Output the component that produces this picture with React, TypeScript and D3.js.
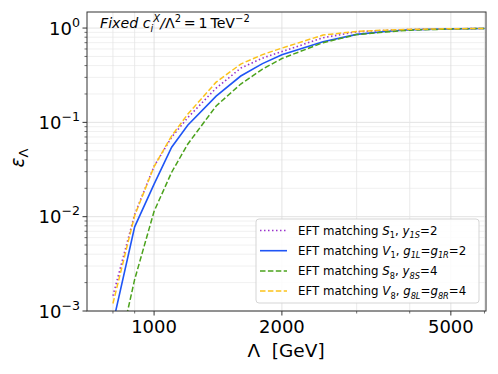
import React from "react";
import * as d3 from "d3";

// Lambda grid (GeV) and efficiencies
const lambdas = [800, 900, 1000, 1100, 1200, 1400, 1600, 1800, 2000, 2500, 3000, 3500, 4000, 5000, 6000];
const effS1 = [1.45e-3, 0.0106, 0.0343, 0.0697, 0.112, 0.231, 0.376, 0.48, 0.563, 0.789, 0.914, 0.945, 0.964, 0.98, 0.99];
const effV1 = [7.4e-4, 7.8e-3, 0.0221, 0.0546, 0.0934, 0.19, 0.31, 0.42, 0.52, 0.716, 0.857, 0.92, 0.96, 0.98, 0.99];
const effS8 = [2.0e-4, 2.16e-3, 0.0114, 0.0296, 0.0587, 0.149, 0.255, 0.367, 0.475, 0.7, 0.853, 0.907, 0.95, 0.976, 0.99];
const effV8 = [1.2e-3, 0.0103, 0.034, 0.072, 0.122, 0.267, 0.415, 0.523, 0.613, 0.843, 0.92, 0.95, 0.97, 0.983, 0.99];

const xMajor = [1000, 2000, 5000];
const xMinor = [800, 900, 3000, 4000, 6000];
const yMajor = [1e-3, 1e-2, 1e-1, 1];
const yExp = ["−3", "−2", "−1", "0"];

type Piece = { t: string; it?: boolean; sub?: boolean; sup?: boolean };

const series = [
  { y: effS1, color: "#9932cc", dash: "1.5,2.5", width: 1.6,
    label: [{ t: "S", it: true }, { t: "1", sub: true }, { t: ", " }, { t: "y", it: true }, { t: "1S", sub: true, it: true }, { t: "=2" }] },
  { y: effV1, color: "#1f55f5", dash: null, width: 1.6,
    label: [{ t: "V", it: true }, { t: "1", sub: true }, { t: ", " }, { t: "g", it: true }, { t: "1L", sub: true, it: true }, { t: "=" }, { t: "g", it: true }, { t: "1R", sub: true, it: true }, { t: "=2" }] },
  { y: effS8, color: "#4ba21c", dash: "5.5,2.4", width: 1.5,
    label: [{ t: "S", it: true }, { t: "8", sub: true }, { t: ", " }, { t: "y", it: true }, { t: "8S", sub: true, it: true }, { t: "=4" }] },
  { y: effV8, color: "#fcc21a", dash: "5.5,2.4", width: 1.5,
    label: [{ t: "V", it: true }, { t: "8", sub: true }, { t: ", " }, { t: "g", it: true }, { t: "8L", sub: true, it: true }, { t: "=" }, { t: "g", it: true }, { t: "8R", sub: true, it: true }, { t: "=4" }] },
];

const W = 498;
const H = 374;
const plot = { left: 87, right: 486, top: 12, bottom: 311 };

// renders text pieces with sub/superscripts as tspans
const rich = (pieces: Piece[], size: number) => {
  let off = 0;
  return pieces.map((p, i) => {
    const target = p.sub ? size * 0.28 : p.sup ? -size * 0.4 : 0;
    const dy = target - off;
    off = target;
    return (
      <tspan
        key={i}
        dy={dy}
        fontStyle={p.it ? "italic" : "normal"}
        fontSize={p.sub || p.sup ? size * 0.7 : size}
      >
        {p.t}
      </tspan>
    );
  });
};

export default function App() {
  const x = d3.scaleLog().domain([695, 6050]).range([plot.left, plot.right]);
  const y = d3.scaleLog().domain([1e-3, 1.48]).range([plot.bottom, plot.top]);

  const line = d3
    .line<number>()
    .x((_, i) => x(lambdas[i]))
    .y((d) => y(d));

  const yMinor: number[] = [];
  for (const base of [1e-3, 1e-2, 1e-1]) {
    for (let k = 2; k <= 9; k++) yMinor.push(base * k);
  }

  const font = "DejaVu Sans, sans-serif";
  const legX = 256;
  const legY = 219;
  const rowH = 20.2;
  const fs = 14.2;

  return (
    <svg width={W} height={H} style={{ position: "absolute", left: 0, top: 0 }} fontFamily={font}>
      <rect x={0} y={0} width={W} height={H} fill="white" />
      <defs>
        <clipPath id="plotclip">
          <rect x={plot.left} y={plot.top} width={plot.right - plot.left} height={plot.bottom - plot.top} />
        </clipPath>
      </defs>

      {/* grid */}
      <g>
        {yMinor.map((v) => (
          <line key={"hy" + v} x1={plot.left} x2={plot.right} y1={y(v)} y2={y(v)} stroke="#ececec" strokeWidth={0.8} />
        ))}
        {yMajor.map((v) => (
          <line key={"hY" + v} x1={plot.left} x2={plot.right} y1={y(v)} y2={y(v)} stroke="#dcdcdc" strokeWidth={0.8} />
        ))}
        {xMinor.map((v) => (
          <line key={"vx" + v} x1={x(v)} x2={x(v)} y1={plot.top} y2={plot.bottom} stroke="#e4e4e4" strokeWidth={0.8} />
        ))}
        {xMajor.map((v) => (
          <line key={"vX" + v} x1={x(v)} x2={x(v)} y1={plot.top} y2={plot.bottom} stroke="#dcdcdc" strokeWidth={0.8} />
        ))}
      </g>

      {/* curves */}
      <g clipPath="url(#plotclip)">
        {series.map((s, i) => (
          <path
            key={i}
            d={line(s.y) || ""}
            fill="none"
            stroke={s.color}
            strokeWidth={s.width}
            strokeDasharray={s.dash || undefined}
          />
        ))}
      </g>

      {/* frame */}
      <rect
        x={plot.left}
        y={plot.top}
        width={plot.right - plot.left}
        height={plot.bottom - plot.top}
        fill="none"
        stroke="#333"
        strokeWidth={1}
      />

      {/* y ticks */}
      {yMajor.map((v, i) => (
        <g key={"ty" + v}>
          <line x1={plot.left - 4.5} x2={plot.left} y1={y(v)} y2={y(v)} stroke="#333" />
          <text x={plot.left - 7} y={y(v) + 6.5} textAnchor="end" fontSize={18}>
            <tspan>10</tspan>
            <tspan dy={-8} fontSize={12.6}>{yExp[i]}</tspan>
          </text>
        </g>
      ))}
      {yMinor.map((v) => (
        <line key={"tym" + v} x1={plot.left - 2.5} x2={plot.left} y1={y(v)} y2={y(v)} stroke="#333" strokeWidth={0.7} />
      ))}

      {/* x ticks */}
      {xMajor.map((v) => (
        <g key={"tx" + v}>
          <line x1={x(v)} x2={x(v)} y1={plot.bottom} y2={plot.bottom + 4.5} stroke="#333" />
          <text x={x(v)} y={plot.bottom + 22} textAnchor="middle" fontSize={18}>
            {v}
          </text>
        </g>
      ))}
      {xMinor.map((v) => (
        <line key={"txm" + v} x1={x(v)} x2={x(v)} y1={plot.bottom} y2={plot.bottom + 2.5} stroke="#333" strokeWidth={0.7} />
      ))}

      {/* axis labels */}
      <text x={286} y={357} textAnchor="middle" fontSize={18.5} style={{ whiteSpace: "pre" }}>
        Λ  [GeV]
      </text>
      <text transform="translate(24,158) rotate(-90)" textAnchor="middle" fontSize={18.5}>
        <tspan fontStyle="italic">ε</tspan>
        <tspan dy={4} fontSize={13}>Λ</tspan>
      </text>

      {/* annotation */}
      <text x={100} y={28} fontSize={fs}>
        {rich(
          [
            { t: "Fixed ", it: true },
            { t: "c", it: true },
            { t: "i", it: true, sub: true },
          ],
          fs
        )}
        <tspan dy={-fs * 0.7} fontSize={fs * 0.7} fontStyle="italic">X</tspan>
        <tspan dy={fs * 0.42} fontStyle="italic">/</tspan>
        <tspan>Λ</tspan>
        <tspan dy={-fs * 0.4} fontSize={fs * 0.7}>2</tspan>
        <tspan dy={fs * 0.4}>{"\u2009=\u20091\u2009TeV"}</tspan>
        <tspan dy={-fs * 0.4} fontSize={fs * 0.7}>−2</tspan>
      </text>

      {/* legend */}
      <rect x={legX} y={legY} width={223} height={84} rx={3} fill="white" fillOpacity={0.85} stroke="#d0d0d0" strokeWidth={0.9} />
      {series.map((s, i) => {
        const cy = legY + 11.5 + i * rowH;
        return (
          <g key={"leg" + i}>
            <line x1={legX + 4} x2={legX + 31} y1={cy} y2={cy} stroke={s.color} strokeWidth={s.width} strokeDasharray={s.dash || undefined} />
            <text x={legX + 42} y={cy + 4.3} fontSize={11.8}>
              <tspan>{"EFT matching "}</tspan>
              {rich(s.label as Piece[], 11.8)}
            </text>
          </g>
        );
      })}
    </svg>
  );
}
